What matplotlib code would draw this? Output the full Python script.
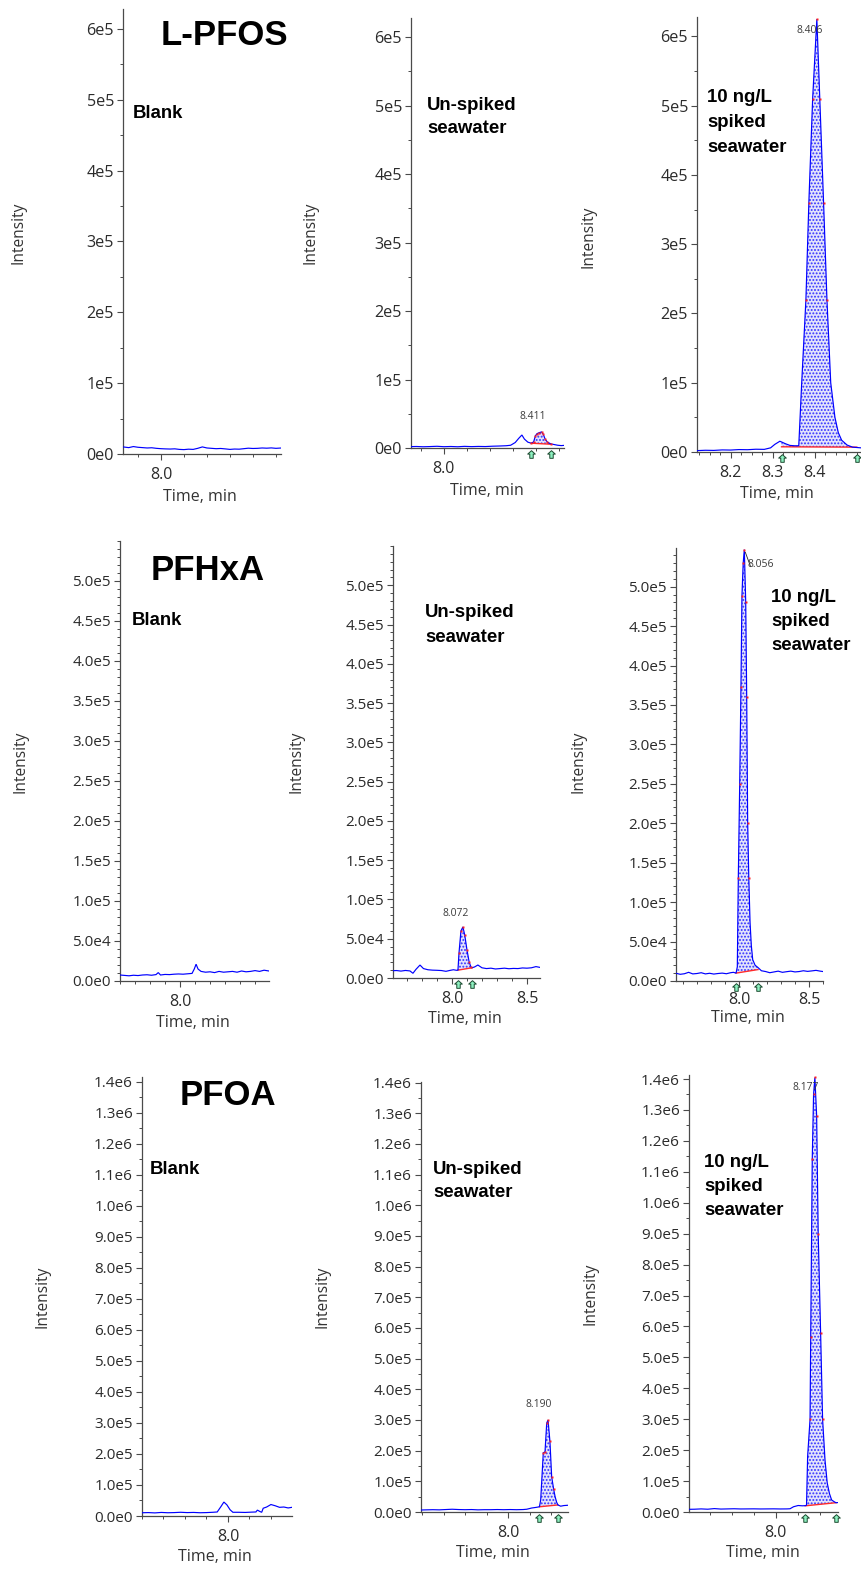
import numpy as np
import matplotlib
matplotlib.use('Agg')
import matplotlib.pyplot as plt
from matplotlib.path import Path
from matplotlib.ticker import FixedLocator, MultipleLocator, FuncFormatter
from matplotlib.transforms import offset_copy

W, H = 861, 1569
plt.rcParams['font.family'] = ['Open Sans', 'DejaVu Sans']
plt.rcParams['hatch.linewidth'] = 0.9

# ---------------- data (time in min, intensity in cps) ----------------
# L-PFOS
pfos_blank_t = [7.835, 7.86, 7.88, 7.90, 7.92, 7.94, 7.96, 7.98, 8.00, 8.02, 8.04, 8.06, 8.08, 8.10,
                8.12, 8.14, 8.16, 8.18, 8.20, 8.22, 8.24, 8.26, 8.28, 8.30, 8.32, 8.34, 8.36, 8.38,
                8.40, 8.42, 8.44, 8.46, 8.48, 8.50, 8.52]
pfos_blank_i = [10000, 9000, 10500, 9500, 9000, 8500, 8800, 8000, 7500, 7200, 7000, 7300, 6500, 6200,
                6800, 6500, 8000, 10000, 8500, 8000, 7500, 7800, 7200, 6500, 7000, 6800, 7500, 8200,
                7800, 8000, 8500, 8200, 8600, 8000, 8400]

pfos_unsp_t = [7.857, 7.88, 7.91, 7.94, 7.97, 8.00, 8.03, 8.06, 8.09, 8.12, 8.15, 8.18, 8.21, 8.24,
               8.27, 8.29, 8.31, 8.325, 8.339, 8.35, 8.365, 8.38, 8.39, 8.398, 8.405, 8.415, 8.425,
               8.432, 8.44, 8.45, 8.465, 8.48, 8.495, 8.51, 8.522]
pfos_unsp_i = [2000, 2200, 1800, 2100, 2500, 1900, 2200, 1800, 2400, 2000, 2300, 2100, 2600, 2900,
               3300, 4000, 8000, 14000, 19000, 13000, 8500, 7000, 9000, 18000, 21000, 22500, 23500,
               20000, 13000, 8500, 6000, 5000, 4000, 3500, 3800]

pfos_spk_t = [8.12, 8.14, 8.16, 8.18, 8.20, 8.22, 8.24, 8.26, 8.28, 8.295, 8.305, 8.317, 8.321, 8.33,
              8.341, 8.352, 8.362, 8.369, 8.379, 8.386, 8.395, 8.405, 8.412, 8.421, 8.429, 8.438,
              8.448, 8.456, 8.464, 8.477, 8.49, 8.50, 8.51]
pfos_spk_i = [2000, 2500, 2300, 3000, 2800, 3500, 3300, 4000, 3800, 6000, 11000, 15500, 14500, 12000,
              9500, 9000, 9000, 100000, 220000, 360000, 510000, 625000, 510000, 360000, 220000, 100000,
              50000, 28000, 17000, 10000, 7000, 6500, 6000]

# PFHxA
pfhxa_blank_t = [7.60, 7.63, 7.66, 7.69, 7.72, 7.75, 7.78, 7.81, 7.84, 7.855, 7.87, 7.90, 7.93, 7.96,
                 7.99, 8.02, 8.05, 8.08, 8.095, 8.107, 8.12, 8.14, 8.17, 8.20, 8.23, 8.26, 8.29, 8.32,
                 8.35, 8.38, 8.41, 8.44, 8.47, 8.50, 8.53, 8.56, 8.593]
pfhxa_blank_i = [7500, 7000, 6500, 7200, 6800, 7500, 7800, 7200, 8000, 10500, 7500, 8200, 8000, 8500,
                 8800, 8500, 9000, 9500, 15000, 21000, 15000, 12000, 11000, 11500, 10500, 12000, 11000,
                 11500, 12000, 11000, 12500, 11500, 12000, 13000, 12000, 13500, 12500]

pfhxa_unsp_t = [7.607, 7.63, 7.66, 7.69, 7.72, 7.74, 7.76, 7.787, 7.81, 7.84, 7.87, 7.90, 7.93, 7.96,
                7.99, 8.01, 8.03, 8.04, 8.047, 8.06, 8.073, 8.085, 8.10, 8.115, 8.127, 8.133, 8.15,
                8.173, 8.20, 8.23, 8.26, 8.29, 8.32, 8.35, 8.38, 8.41, 8.44, 8.47, 8.50, 8.53, 8.56, 8.587]
pfhxa_unsp_i = [9300, 9500, 8800, 9600, 9000, 6000, 11000, 16500, 12000, 10500, 10000, 9800, 9500, 8500,
                9800, 10500, 9800, 10000, 32000, 60000, 65000, 55000, 36000, 20000, 14000, 13000, 14000,
                16500, 13000, 12000, 12500, 11500, 12000, 12500, 11800, 12200, 12000, 12800, 12500,
                13000, 14500, 13500]

pfhxa_spk_t = [7.55, 7.58, 7.61, 7.64, 7.67, 7.70, 7.73, 7.76, 7.79, 7.82, 7.85, 7.88, 7.91, 7.94, 7.96,
               7.979, 7.988, 7.995, 8.005, 8.014, 8.021, 8.03, 8.038, 8.048, 8.055, 8.062, 8.07, 8.079,
               8.088, 8.098, 8.115, 8.136, 8.16, 8.19, 8.22, 8.25, 8.28, 8.31, 8.34, 8.37, 8.40, 8.43,
               8.46, 8.49, 8.52, 8.55, 8.58, 8.60]
pfhxa_spk_i = [9800, 8500, 9200, 11000, 9000, 9500, 10500, 9000, 9800, 8800, 9500, 10000, 9200, 10500,
               11000, 10000, 18000, 130000, 250000, 373000, 488000, 530000, 547000, 480000, 360000,
               200000, 130000, 74000, 45000, 27000, 20000, 17000, 13000, 12000, 10500, 11500, 12500,
               11000, 11800, 12500, 11500, 12000, 13000, 12200, 12800, 13500, 12500, 12000]

# PFOA
pfoa_blank_t = [7.60, 7.63, 7.66, 7.69, 7.72, 7.75, 7.78, 7.81, 7.84, 7.87, 7.90, 7.93, 7.95, 7.967,
                7.981, 7.995, 8.01, 8.023, 8.05, 8.08, 8.11, 8.13, 8.137, 8.15, 8.157, 8.164, 8.18,
                8.20, 8.22, 8.24, 8.26, 8.28, 8.298]
pfoa_blank_i = [10500, 11000, 10000, 11500, 10500, 11000, 12000, 11000, 11500, 10500, 11000, 12000,
                13000, 30000, 45000, 36000, 20000, 12000, 12000, 11500, 12500, 13000, 19000, 14000,
                12000, 25000, 29000, 37000, 33000, 28000, 29000, 26000, 28000]

pfoa_unsp_t = [7.595, 7.62, 7.65, 7.68, 7.71, 7.74, 7.77, 7.80, 7.83, 7.86, 7.89, 7.92, 7.95, 7.98,
               8.01, 8.04, 8.07, 8.087, 8.11, 8.13, 8.146, 8.152, 8.164, 8.172, 8.18, 8.186, 8.195,
               8.203, 8.212, 8.219, 8.226, 8.232, 8.245, 8.26, 8.279]
pfoa_unsp_i = [6500, 7000, 7500, 7000, 8000, 9000, 8000, 7500, 8000, 7000, 7500, 7500, 8000, 7500,
               8000, 7500, 8000, 9000, 13000, 15000, 17000, 40000, 193000, 196000, 290000, 300000,
               230000, 115000, 75000, 50000, 32000, 23000, 19000, 21000, 22000]

pfoa_spk_t = [7.605, 7.63, 7.66, 7.69, 7.72, 7.75, 7.78, 7.81, 7.84, 7.87, 7.90, 7.93, 7.96, 7.99,
              8.02, 8.05, 8.064, 8.08, 8.101, 8.12, 8.133, 8.139, 8.144, 8.155, 8.158, 8.165, 8.171,
              8.177, 8.185, 8.192, 8.203, 8.212, 8.223, 8.233, 8.243, 8.253, 8.265, 8.273, 8.282]
pfoa_spk_i = [8700, 9000, 10000, 9000, 11000, 9500, 10000, 10500, 9800, 10000, 10200, 9800, 10000,
              10200, 9800, 10000, 10500, 17000, 21000, 20000, 20500, 22000, 180000, 300000, 567000,
              1140000, 1350000, 1405000, 1280000, 900000, 580000, 300000, 168000, 94000, 60000,
              39000, 33000, 30000, 30500]

# integration windows (start, end) and baseline intensities at them
pfos_unsp_win, pfos_unsp_base = (8.38, 8.465), (7000, 5500)
pfos_spk_win, pfos_spk_base = (8.321, 8.50), (7500, 7000)
pfhxa_unsp_win, pfhxa_unsp_base = (8.04, 8.133), (10000, 13000)
pfhxa_spk_win, pfhxa_spk_base = (7.979, 8.136), (10000, 14500)
pfoa_unsp_win, pfoa_unsp_base = (8.146, 8.232), (17000, 23000)
pfoa_spk_win, pfoa_spk_base = (8.133, 8.273), (20000, 30000)

# y tick values shown (labelled) per row
pfos_yticks = [0, 1e5, 2e5, 3e5, 4e5, 5e5, 6e5]
pfhxa_yticks = [0, 5e4, 1e5, 1.5e5, 2e5, 2.5e5, 3e5, 3.5e5, 4e5, 4.5e5, 5e5]
pfoa_yticks = [0, 1e5, 2e5, 3e5, 4e5, 5e5, 6e5, 7e5, 8e5, 9e5, 1e6, 1.1e6, 1.2e6, 1.3e6, 1.4e6]

# peak retention-time labels
peak_labels = ['8.411', '8.406', '8.072', '8.056', '8.190', '8.177']
compounds = ['L-PFOS', 'PFHxA', 'PFOA']
sample_names = ['Blank', 'Un-spiked\nseawater', '10 ng/L\nspiked\nseawater']

# ---------------- figure ----------------
fig = plt.figure(figsize=(W / 100, H / 100), dpi=100)


def rect(x0, x1, y0, y1):
    return [x0 / W, 1 - y1 / H, (x1 - x0) / W, (y1 - y0) / H]


def ftext(x, y, s, **kw):
    return fig.text(x / W, 1 - y / H, s, **kw)


def sci_fmt(dec):
    def f(v, pos):
        if abs(v) < 1e-9:
            return f"{0:.{dec}f}e0"
        e = int(np.floor(np.log10(abs(v)) + 1e-9))
        return f"{v / 10 ** e:.{dec}f}e{e}"
    return FuncFormatter(f)


arrow_verts = [(0, 1), (-1, 0.1), (-0.45, 0.1), (-0.45, -1), (0.45, -1), (0.45, 0.1), (1, 0.1), (0, 1)]
arrow_marker = Path(arrow_verts, [Path.MOVETO] + [Path.LINETO] * 6 + [Path.CLOSEPOLY])

BLUE = '#0000ff'
TICKC = '#2b2b2b'

panels = [
    # row 1
    dict(rect=(123, 281, 9, 454), t=pfos_blank_t, i=pfos_blank_i, xlim=(7.835, 8.522), ylim=(0, 6.28e5),
         yt=pfos_yticks, ymin=5e4, dec=0, xmaj=[8.0], xmin=0.1, win=None, base=None, ysize=11.6, xpad=5.5),
    dict(rect=(411, 564, 18, 448), t=pfos_unsp_t, i=pfos_unsp_i, xlim=(7.857, 8.522), ylim=(0, 6.28e5),
         yt=pfos_yticks, ymin=5e4, dec=0, xmaj=[8.0], xmin=0.1, win=pfos_unsp_win, base=pfos_unsp_base,
         ysize=11.6, xpad=5.5),
    dict(rect=(697, 861, 17, 452), t=pfos_spk_t, i=pfos_spk_i, xlim=(8.12, 8.51), ylim=(0, 6.28e5),
         yt=pfos_yticks, ymin=5e4, dec=0, xmaj=[8.2, 8.3, 8.4], xmin=0.025, win=pfos_spk_win,
         base=pfos_spk_base, ysize=11.6, xpad=5.5),
    # row 2
    dict(rect=(120, 269, 541, 981), t=pfhxa_blank_t, i=pfhxa_blank_i, xlim=(7.6, 8.593), ylim=(0, 5.5e5),
         yt=pfhxa_yticks, ymin=1e4, dec=1, xmaj=[8.0], xmin=0.1, win=None, base=None, ysize=11, xpad=5.5),
    dict(rect=(393, 540, 546, 978), t=pfhxa_unsp_t, i=pfhxa_unsp_i, xlim=(7.607, 8.587), ylim=(0, 5.5e5),
         yt=pfhxa_yticks, ymin=1e4, dec=1, xmaj=[8.0, 8.5], xmin=0.1, win=pfhxa_unsp_win,
         base=pfhxa_unsp_base, ysize=11, xpad=5.5),
    dict(rect=(676, 823, 548, 981), t=pfhxa_spk_t, i=pfhxa_spk_i, xlim=(7.55, 8.6), ylim=(0, 5.49e5),
         yt=pfhxa_yticks, ymin=1e4, dec=1, xmaj=[8.0, 8.5], xmin=0.1, win=pfhxa_spk_win,
         base=pfhxa_spk_base, ysize=11, xpad=4.0),
    # row 3
    dict(rect=(142, 292, 1077, 1516), t=pfoa_blank_t, i=pfoa_blank_i, xlim=(7.6, 8.298), ylim=(0, 1.416e6),
         yt=pfoa_yticks, ymin=5e4, dec=1, xmaj=[8.0], xmin=0.1, win=None, base=None, ysize=11, xpad=5.5),
    dict(rect=(421, 568, 1082, 1512), t=pfoa_unsp_t, i=pfoa_unsp_i, xlim=(7.595, 8.279), ylim=(0, 1.402e6),
         yt=pfoa_yticks, ymin=5e4, dec=1, xmaj=[8.0], xmin=0.1, win=pfoa_unsp_win, base=pfoa_unsp_base,
         ysize=11, xpad=5.5),
    dict(rect=(689, 838, 1075, 1512), t=pfoa_spk_t, i=pfoa_spk_i, xlim=(7.605, 8.282), ylim=(0, 1.413e6),
         yt=pfoa_yticks, ymin=5e4, dec=1, xmaj=[8.0], xmin=0.1, win=pfoa_spk_win, base=pfoa_spk_base,
         ysize=11, xpad=5.5),
]

axes = []
for p in panels:
    ax = fig.add_axes(rect(*p['rect']))
    axes.append(ax)
    t = np.array(p['t'])
    y = np.array(p['i'], dtype=float)
    ax.plot(t, y, color=BLUE, lw=0.85, zorder=3, solid_joinstyle='miter')
    if p['win'] is not None:
        t0, t1 = p['win']
        b0, b1 = p['base']
        m = (t >= t0) & (t <= t1)
        tt = t[m]
        bb = np.interp(tt, [t0, t1], [b0, b1])
        ax.fill_between(tt, bb, np.maximum(y[m], bb), facecolor='#e2e2fb', edgecolor='#3030ff',
                        hatch='.....', linewidth=0, zorder=2)
        ax.plot([t0, t1], [b0, b1], color='#ff2a2a', lw=1.0, zorder=2.5)
        top = y[m] > 0.2 * y[m].max()
        ax.plot(tt[top], y[m][top], ls='none', marker='s', ms=1.5, mfc='#ff2020', mec='none', zorder=4)
        tr = offset_copy(ax.get_xaxis_transform(), fig=fig, x=0, y=-6, units='dots')
        ax.plot([t0, t1], [0, 0], ls='none', marker=arrow_marker, ms=5.5, mfc='#8df0c0', mec='#1d4a30',
                mew=0.7, transform=tr, clip_on=False, zorder=5)
    ax.set_xlim(*p['xlim'])
    ax.set_ylim(*p['ylim'])
    ax.yaxis.set_major_locator(FixedLocator(p['yt']))
    ax.yaxis.set_minor_locator(MultipleLocator(p['ymin']))
    ax.yaxis.set_major_formatter(sci_fmt(p['dec']))
    ax.xaxis.set_major_locator(FixedLocator(p['xmaj']))
    ax.xaxis.set_minor_locator(MultipleLocator(p['xmin']))
    ax.xaxis.set_major_formatter(FuncFormatter(lambda v, pos: f"{v:.1f}"))
    for s in ('top', 'right'):
        ax.spines[s].set_visible(False)
    for s in ('left', 'bottom'):
        ax.spines[s].set_color('#4a4a4a')
        ax.spines[s].set_linewidth(0.9)
    ax.tick_params(which='major', length=4, width=0.8, color='#4a4a4a', labelcolor=TICKC, direction='out')
    ax.tick_params(which='minor', length=2.2, width=0.7, color='#4a4a4a', direction='out')
    ax.tick_params(axis='y', which='major', labelsize=p['ysize'], pad=2.5)
    ax.tick_params(axis='x', which='major', labelsize=11.5, pad=p['xpad'])
    ax.patch.set_alpha(0)

# axis labels (pixel positions)
ylabel_pos = [(18, 233), (310, 233), (588, 237), (21, 762), (297, 762), (578, 762),
              (42, 1297), (323, 1297), (591, 1294)]
xlabel_pos = [(200, 497), (487, 491), (777, 494), (193, 1023), (465, 1019), (748, 1018),
              (215, 1557), (493, 1553), (763, 1553)]
for (x, y) in ylabel_pos:
    ftext(x, y, 'Intensity', rotation=90, ha='center', va='center', fontsize=11.2, color='#333333')
for (x, y) in xlabel_pos:
    ftext(x, y, 'Time, min', ha='center', va='center', fontsize=11.5, color='#333333')

# compound titles
title_pos = [(224, 45), (208, 580), (228, 1105)]
for name, (x, y) in zip(compounds, title_pos):
    ftext(x, y, name, ha='center', va='baseline', fontsize=25, fontweight='bold',
          family=['Liberation Sans', 'DejaVu Sans'], color='black')

# sample labels: (left x, first baseline y, line spacing)
sample_pos = [
    [(133, 118, 24), (427, 110, 23), (707, 102, 25)],
    [(132, 625, 24), (425, 617, 25), (771, 602, 24)],
    [(150, 1174, 24), (433, 1174, 23), (704, 1167, 24)],
]
for row in sample_pos:
    for name, (x, y, dy) in zip(sample_names, row):
        for k, line in enumerate(name.split('\n')):
            ftext(x, y + k * dy, line, ha='left', va='baseline', fontsize=13.4, fontweight='bold',
                  family=['Liberation Sans', 'DejaVu Sans'], color='black')

# peak labels
peak_pos = [(533, 419, 'center'), (810, 33, 'center'), (456, 916, 'center'),
            (748, 567, 'left'), (539, 1407, 'center'), (806, 1090, 'center')]
for lab, (x, y, ha) in zip(peak_labels, peak_pos):
    ftext(x, y, lab, ha=ha, va='baseline', fontsize=7.5, color='#3c3c3c')

# leader line for the 8.056 label
axes[5].annotate('', xy=(8.038, 5.47e5), xytext=(8.09, 5.22e5),
                 arrowprops=dict(arrowstyle='-', color='#222222', lw=0.6), annotation_clip=False)

fig.savefig('out.png', dpi=100)
